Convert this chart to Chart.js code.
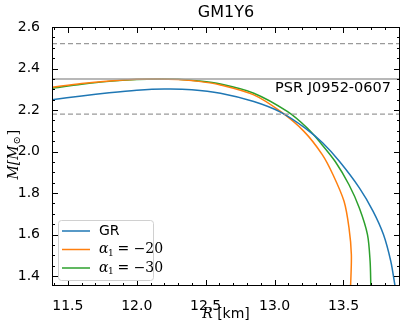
<!DOCTYPE html>
<html>
<head>
<meta charset="utf-8">
<script src="https://cdn.jsdelivr.net/npm/chart.js@4"></script>
<style>
  html, body { margin: 0; padding: 0; background: #fff; }
  #wrap { width: 407px; height: 329px; }
</style>
</head>
<body>
<div id="wrap"><canvas id="mr"></canvas></div>
<script>
// radius (km) / mass (Msun)
const grR = [11.385, 11.6, 11.8, 12.0, 12.2, 12.4, 12.607, 12.849, 13.043, 13.222, 13.35, 13.47, 13.615, 13.715, 13.79, 13.843, 13.872, 13.877];
const grM = [2.249, 2.268, 2.283, 2.295, 2.301, 2.298, 2.281, 2.241, 2.190, 2.113, 2.041, 1.953, 1.825, 1.712, 1.600, 1.472, 1.360, 1.34];

const a20R = [11.385, 11.6, 11.8, 12.0, 12.15, 12.3, 12.45, 12.607, 12.849, 13.043, 13.213, 13.346, 13.424, 13.504, 13.540, 13.557, 13.552, 13.550];
const a20M = [2.310, 2.328, 2.340, 2.348, 2.350, 2.347, 2.338, 2.321, 2.273, 2.193, 2.097, 1.985, 1.888, 1.760, 1.632, 1.504, 1.360, 1.34];

const a30R = [11.385, 11.6, 11.8, 12.0, 12.15, 12.3, 12.45, 12.607, 12.849, 13.092, 13.237, 13.334, 13.44, 13.54, 13.615, 13.674, 13.693, 13.698, 13.698];
const a30M = [2.305, 2.324, 2.338, 2.347, 2.350, 2.348, 2.340, 2.325, 2.281, 2.193, 2.113, 2.041, 1.952, 1.840, 1.728, 1.600, 1.472, 1.360, 1.34];

const psrMass = 2.35;
const psrLow = 2.18;
const psrHigh = 2.52;

const xTicks = [11.5, 12.0, 12.5, 13.0, 13.5];
const yTicks = [1.4, 1.6, 1.8, 2.0, 2.2, 2.4, 2.6];
const xMin = 11.385, xMax = 13.91, yMin = 1.352, yMax = 2.6;

const seriesNames = ['GR', 'α₁ = −20', 'α₁ = −30'];
const seriesColors = ['#1f77b4', '#ff7f0e', '#2ca02c'];

const pts = (xs, ys) => xs.map((r, i) => ({ x: r, y: ys[i] }));
const hline = v => [{ x: xMin, y: v }, { x: xMax, y: v }];

const font = 'DejaVu Sans';

// frame, inward ticks, titles, legend
const decor = {
  id: 'decor',
  afterDatasetsDraw(chart) {
    const { ctx, chartArea: a, scales: { x, y } } = chart;
    ctx.save();
    ctx.strokeStyle = '#000';
    ctx.lineWidth = 1;
    ctx.strokeRect(a.left + 0.5, a.top + 0.5, a.right - a.left - 1, a.bottom - a.top - 1);

    ctx.beginPath();
    for (let v = 11.4; v <= xMax; v += 0.1) {
      const px = Math.round(x.getPixelForValue(v)) + 0.5;
      const major = xTicks.some(t => Math.abs(t - v) < 1e-6);
      const len = major ? 6 : 3;
      ctx.moveTo(px, a.bottom); ctx.lineTo(px, a.bottom - len);
      ctx.moveTo(px, a.top); ctx.lineTo(px, a.top + len);
    }
    for (let v = 1.4; v <= yMax + 1e-6; v += 0.05) {
      const py = Math.round(y.getPixelForValue(v)) + 0.5;
      const major = yTicks.some(t => Math.abs(t - v) < 1e-6);
      const len = major ? 6 : 3;
      ctx.moveTo(a.left, py); ctx.lineTo(a.left + len, py);
      ctx.moveTo(a.right, py); ctx.lineTo(a.right - len, py);
    }
    ctx.stroke();

    // title
    ctx.fillStyle = '#000';
    ctx.textAlign = 'center';
    ctx.textBaseline = 'middle';
    ctx.font = '16px "' + font + '"';
    ctx.fillText('GM1Y6', (a.left + a.right) / 2, 13);

    // x title
    ctx.font = 'italic 14px "DejaVu Serif"';
    const rw = ctx.measureText('R').width;
    ctx.font = '14px "' + font + '"';
    const kw = ctx.measureText(' [km]').width;
    let sx = (a.left + a.right) / 2 - (rw + kw) / 2;
    ctx.textAlign = 'left';
    ctx.font = 'italic 14px "DejaVu Serif"';
    ctx.fillText('R', sx, 314);
    ctx.font = '14px "' + font + '"';
    ctx.fillText(' [km]', sx + rw, 314);

    // y title
    ctx.save();
    ctx.translate(14, (a.top + a.bottom) / 2);
    ctx.rotate(-Math.PI / 2);
    ctx.textAlign = 'center';
    ctx.font = 'italic 14px "DejaVu Serif"';
    ctx.fillText('M[M', -6, 0);
    const mw = ctx.measureText('M[M').width;
    ctx.font = '10px "DejaVu Serif"';
    ctx.fillText('⊙', -6 + mw / 2 + 5, 3);
    ctx.font = '14px "DejaVu Serif"';
    ctx.fillText(']', -6 + mw / 2 + 13, 0);
    ctx.restore();

    // PSR label
    ctx.textAlign = 'right';
    ctx.font = '14.5px "' + font + '"';
    ctx.fillText('PSR J0952-0607', a.right - 9, 88);

    // legend
    const lx = 58, ly = 220, lw = 95, lh = 60;
    ctx.beginPath();
    ctx.roundRect(lx + 0.5, ly + 0.5, lw, lh, 3);
    ctx.fillStyle = 'rgba(255,255,255,0.85)';
    ctx.fill();
    ctx.strokeStyle = '#d0d0d0';
    ctx.stroke();
    seriesNames.forEach((name, i) => {
      const yy = ly + 11 + i * 18.5;
      ctx.strokeStyle = seriesColors[i];
      ctx.lineWidth = 1.5;
      ctx.beginPath();
      ctx.moveTo(62, yy); ctx.lineTo(90, yy);
      ctx.stroke();
      ctx.fillStyle = '#000';
      ctx.textAlign = 'left';
      if (i === 0) {
        ctx.font = '14px "' + font + '"';
        ctx.fillText(name, 99, yy);
      } else {
        ctx.font = 'italic 14px "DejaVu Serif"';
        ctx.fillText('α', 99, yy);
        ctx.font = '9px "DejaVu Serif"';
        ctx.fillText('1', 108, yy + 4);
        ctx.font = '14px "DejaVu Serif"';
        ctx.fillText(name.slice(2), 113, yy);
      }
    });
    ctx.restore();
  }
};

const lineDs = (label, data, color) => ({
  label, data, borderColor: color, borderWidth: 1.5,
  pointRadius: 0, tension: 0.3, fill: false, showLine: true
});

new Chart(document.getElementById('mr'), {
  type: 'scatter',
  data: {
    datasets: [
      { label: 'high', data: hline(psrHigh), borderColor: '#9a9a9a', borderWidth: 1.3, borderDash: [5, 3], pointRadius: 0, showLine: true },
      { label: 'low', data: hline(psrLow), borderColor: '#9a9a9a', borderWidth: 1.3, borderDash: [5, 3], pointRadius: 0, showLine: true },
      { label: 'psr', data: hline(psrMass), borderColor: '#a0a0a0', borderWidth: 1.5, pointRadius: 0, showLine: true },
      lineDs(seriesNames[0], pts(grR, grM), seriesColors[0]),
      lineDs(seriesNames[1], pts(a20R, a20M), seriesColors[1]),
      lineDs(seriesNames[2], pts(a30R, a30M), seriesColors[2])
    ]
  },
  options: {
    responsive: true,
    maintainAspectRatio: false,
    animation: false,
    layout: { padding: { top: 27, right: 7, left: 0, bottom: 0 } },
    plugins: { legend: { display: false }, tooltip: { enabled: false } },
    scales: {
      x: {
        type: 'linear', min: xMin, max: xMax,
        grid: { display: false },
        border: { display: false },
        afterBuildTicks: s => { s.ticks = xTicks.map(v => ({ value: v })); },
        afterFit: s => { s.height = 43; },
        ticks: {
          color: '#000', padding: 4, maxRotation: 0,
          font: { family: font, size: 14 },
          callback: v => v.toFixed(1)
        }
      },
      y: {
        type: 'linear', min: yMin, max: yMax,
        grid: { display: false },
        border: { display: false },
        afterBuildTicks: s => { s.ticks = yTicks.map(v => ({ value: v })); },
        afterFit: s => { s.width = 52; },
        ticks: {
          color: '#000', padding: 4,
          font: { family: font, size: 14 },
          callback: v => v.toFixed(1)
        }
      }
    }
  },
  plugins: [decor]
});
</script>
</body>
</html>
